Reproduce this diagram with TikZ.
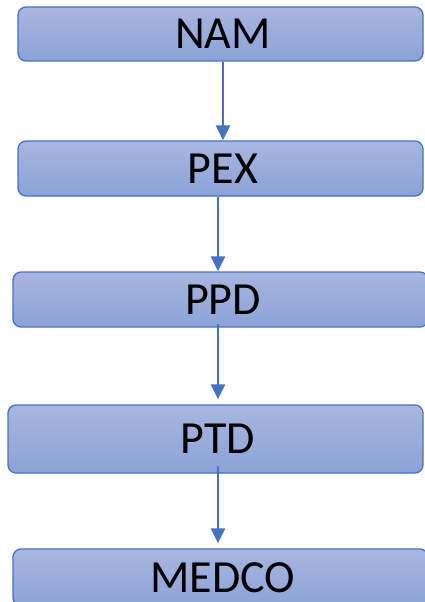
\documentclass[tikz,border=0pt]{standalone}
\usepackage{fontspec}
\setmainfont{Carlito}
\usetikzlibrary{arrows.meta}
\definecolor{boxline}{HTML}{4472C4}
\definecolor{boxtop}{HTML}{A8B6E0}
\definecolor{boxbot}{HTML}{8BA2D7}
\tikzset{
  flowbox/.style={draw=boxline, line width=1.3pt, rounded corners=8pt,
    top color=boxtop, bottom color=boxbot, inner sep=0pt,
    font=\fontsize{46pt}{50pt}\selectfont, text=black,
    execute at begin node=\hspace{5pt}},
  flowarrow/.style={draw=boxline, line width=2.6pt,
    -{Triangle[width=14pt,length=15pt]}}
}
\begin{document}
\begin{tikzpicture}[x=1pt,y=-1pt]
\useasboundingbox (0,0) rectangle (424,602);
\node[flowbox, minimum width=405pt, minimum height=54pt] (nam) at (220.5,34) {NAM};
\node[flowbox, minimum width=405pt, minimum height=55pt] (pex) at (220.5,168.5) {PEX};
\node[flowbox, minimum width=415pt, minimum height=55pt] (ppd) at (220.5,299.5) {PPD};
\node[flowbox, minimum width=415pt, minimum height=68pt] (ptd) at (215.5,439) {PTD};
\node[flowbox, minimum width=415pt, minimum height=57pt] (medco) at (220.5,577.5) {MEDCO};
\draw[flowarrow] ([xshift=2.5pt]nam.south) -- ([xshift=2.5pt]pex.north);
\draw[flowarrow] ([xshift=-2.5pt]pex.south) -- ([xshift=-2.5pt]ppd.north);
\draw[flowarrow] ([xshift=-2.5pt,yshift=4pt]ppd.south) -- ([xshift=2.5pt,yshift=5pt]ptd.north);
\draw[flowarrow] ([xshift=2.5pt,yshift=8pt]ptd.south) -- ([xshift=-2.5pt,yshift=5pt]medco.north);
\end{tikzpicture}
\end{document}
